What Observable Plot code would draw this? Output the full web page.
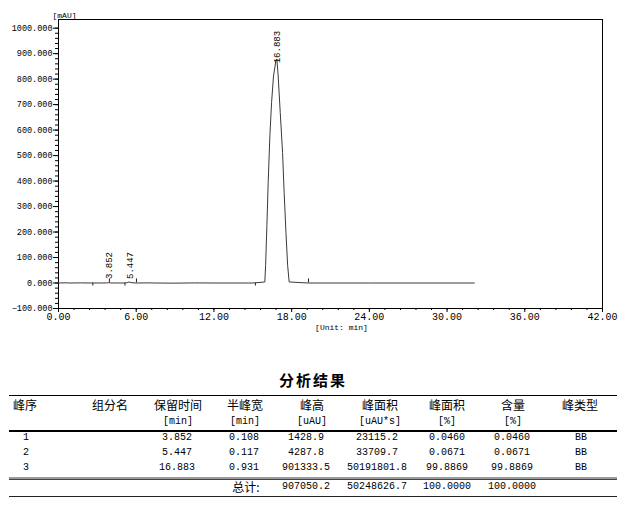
<!DOCTYPE html>
<html>
<head>
<meta charset="utf-8">
<script src="https://cdn.jsdelivr.net/npm/d3@7"></script>
<script src="https://cdn.jsdelivr.net/npm/@observablehq/plot@0.6"></script>
<style>
  html, body { margin: 0; padding: 0; background: #fff; }
  #wrap { position: relative; width: 622px; height: 510px; overflow: hidden; }
  #chart { position: absolute; left: 0; top: 0; }
  .t { position: absolute; white-space: nowrap; line-height: 1; color: #000; }
  .num { font-family: "Liberation Mono", "DejaVu Sans Mono", monospace; font-size: 10px; }
  .cjk { font-family: "Noto Sans CJK SC", sans-serif; font-size: 12px; }
  .title { font-family: "Noto Sans CJK SC", sans-serif; font-size: 15px; font-weight: bold; letter-spacing: 2px; }
  .hl { position: absolute; left: 9px; width: 608px; }
</style>
</head>
<body>
<div id="wrap">
  <div id="chart"></div>
  <div id="table"></div>
</div>
<script>
// ---------- chromatogram data ----------
const times  = [0, 0.6, 0.8, 1.7, 2.6, 3.7, 3.85, 4.0, 5.1, 5.3, 5.447, 5.6, 6.0, 7.0, 7.4, 9.0, 10.5, 12.0, 15.0, 15.93, 15.99, 16.09, 16.19, 16.32, 16.45, 16.6, 16.78, 16.86, 16.96, 17.12, 17.30, 17.42, 17.56, 17.69, 17.81, 19.3, 24.0, 28.0, 32.1];
const signal = [0, 0.8, 0, 0.5, 0, 0.3, 1.4, 0.2, 0, 1.2, 4.3, 1.5, 0, 0.6, 0, -0.5, 0.4, 0, 0, 4, 69, 226, 395, 578, 708, 812, 870, 878, 812, 669, 512, 356, 199, 69, 4, 0, 0, 0, 0];

// peaks
const peakNo       = ["1", "2", "3"];
const peakRT       = [3.852, 5.447, 16.883];
const peakRTText   = ["3.852", "5.447", "16.883"];
const halfWidth    = ["0.108", "0.117", "0.931"];
const peakHeight   = ["1428.9", "4287.8", "901333.5"];
const peakArea     = ["23115.2", "33709.7", "50191801.8"];
const areaPct      = ["0.0460", "0.0671", "99.8869"];
const contentPct   = ["0.0460", "0.0671", "99.8869"];
const peakType     = ["BB", "BB", "BB"];
const totals       = ["", "", "", "总计:", "907050.2", "50248626.7", "100.0000", "100.0000", ""];

// integration markers (peak start / end), minutes
const startMarks = [2.65, 5.13, 15.2];
const endMarks   = [3.93, 6.02, 19.3];

// axis ticks
const yTicks = d3.range(-100, 1001, 100);
const yMinor = d3.range(-100, 1001, 20);
const xTicks = d3.range(0, 42.01, 6);
const xMinor = d3.range(0, 42.01, 1.2);

// table headers
const header1 = ["峰序", "组分名", "保留时间", "半峰宽", "峰高", "峰面积", "峰面积", "含量", "峰类型"];
const header2 = ["", "", "[min]", "[min]", "[uAU]", "[uAU*s]", "[%]", "[%]", ""];

const chrom = times.map((t, i) => ({t, v: signal[i]}));
const bigLabel = [{t: peakRT[2], v: +peakHeight[2] / 1000, s: peakRTText[2]}];
const smallLabels = [0, 1].map(i => ({t: peakRT[i], v: 0, s: peakRTText[i]}));

const chart = Plot.plot({
  width: 622,
  height: 340,
  marginLeft: 58,
  marginRight: 20,
  marginTop: 19,
  marginBottom: 32,
  style: {fontFamily: "Liberation Mono, DejaVu Sans Mono, monospace", fontSize: "8.5px", background: "white", color: "black"},
  x: {domain: [0, 42]},
  y: {domain: [-100, 1034]},
  marks: [
    Plot.axisY(yMinor, {tickSize: 3, tickFormat: () => "", label: null}),
    Plot.axisY(yTicks, {tickSize: 5, tickPadding: 1, tickFormat: d3.format(".3f"), label: null, fontSize: 8.5}),
    Plot.axisX(xMinor, {tickSize: 2, tickFormat: () => "", label: null}),
    Plot.axisX(xTicks, {tickSize: 4, tickPadding: 0, tickFormat: d3.format(".2f"), label: null, fontSize: 10}),
    Plot.frame({stroke: "black"}),
    Plot.ruleX(startMarks, {x: d => d, y1: 0, y2: -12, stroke: "#222"}),
    Plot.ruleX(endMarks, {x: d => d, y1: 0, y2: 16, stroke: "#222"}),
    Plot.line(chrom, {x: "t", y: "v", stroke: "#3a3a3a", strokeWidth: 1}),
    Plot.text(smallLabels, {x: "t", y: "v", text: "s", rotate: -90, textAnchor: "start", lineAnchor: "middle", dy: -4, dx: 1, fontSize: 9}),
    Plot.text(bigLabel, {x: "t", y: "v", text: "s", rotate: -90, textAnchor: "start", lineAnchor: "middle", dy: 10, dx: 0, fontSize: 9}),
    Plot.text(["[mAU]"], {frameAnchor: "top-left", text: d => d, textAnchor: "start", lineAnchor: "bottom", dx: -6, dy: -2, fontSize: 8}),
    Plot.text(["[Unit: min]"], {frameAnchor: "bottom", text: d => d, textAnchor: "middle", lineAnchor: "middle", dx: 11, dy: 19, fontSize: 8})
  ]
});
document.getElementById("chart").appendChild(chart);

// ---------- results table ----------
const tbl = document.getElementById("table");
function place(x, y, text, cls, align) {
  if (text === "") return;
  const d = document.createElement("div");
  d.className = "t " + cls;
  d.textContent = text;
  tbl.appendChild(d);
  const w = d.getBoundingClientRect().width;
  const h = d.getBoundingClientRect().height;
  let left = x;
  if (align === "middle") left = x - w / 2;
  else if (align === "end") left = x - w;
  d.style.left = left + "px";
  d.style.top = (y - h / 2) + "px";
}
function hline(y, h, color) {
  const d = document.createElement("div");
  d.className = "hl";
  d.style.top = y + "px";
  d.style.height = h + "px";
  d.style.background = color;
  tbl.appendChild(d);
}

place(313, 379, "分析结果", "title", "middle");

const headCenters = [25, 110, 178, 245, 312, 380, 447, 513, 580];
const valCenters  = [26, 110, 177, 244, 306, 377, 447, 512, 581];
header1.forEach((h, i) => place(headCenters[i], 405, h, "cjk", "middle"));
header2.forEach((h, i) => place(headCenters[i], 422, h, "num", "middle"));

const rowY = [438, 453, 468];
const cols = [peakNo, null, peakRTText, halfWidth, peakHeight, peakArea, areaPct, contentPct, peakType];
rowY.forEach((y, r) => {
  cols.forEach((c, i) => {
    if (!c) return;
    place(valCenters[i], y, c[r], "num", "middle");
  });
});
totals.forEach((s, i) => {
  if (s === "") return;
  place(i === 3 ? 246 : valCenters[i], 487, s, i === 3 ? "cjk" : "num", "middle");
});

hline(395, 1, "#000");
hline(430, 1.5, "#000");
hline(476.5, 2, "#9a9a9a");
hline(478.5, 1, "#444");
hline(495.5, 1, "#222");
</script>
</body>
</html>
